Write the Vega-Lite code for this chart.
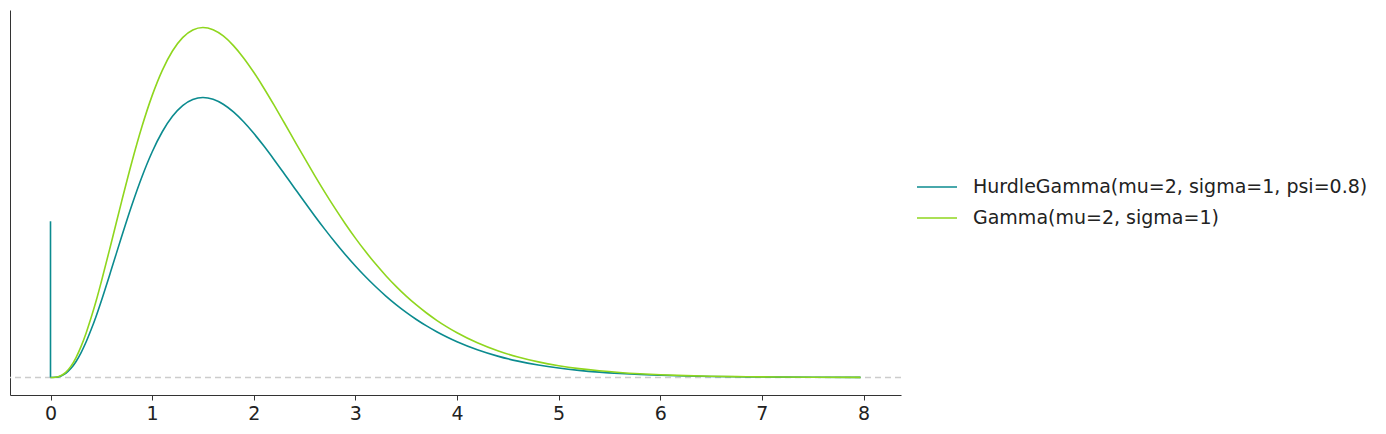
{
  "$schema": "https://vega.github.io/schema/vega-lite/v6.json",
  "width": 891,
  "height": 385,
  "autosize": {"type": "none"},
  "padding": {"left": 10, "top": 10, "right": 485, "bottom": 39},
  "background": "white",
  "config": {
    "font": "DejaVu Sans",
    "view": {"stroke": null}
  },
  "datasets": {
    "curves": [
      {"x": 0, "y": 0, "dist": "HurdleGamma(mu=2, sigma=1, psi=0.8)"},
      {"x": 0.05, "y": 0.00024128, "dist": "HurdleGamma(mu=2, sigma=1, psi=0.8)"},
      {"x": 0.1, "y": 0.0017466, "dist": "HurdleGamma(mu=2, sigma=1, psi=0.8)"},
      {"x": 0.15, "y": 0.0053339, "dist": "HurdleGamma(mu=2, sigma=1, psi=0.8)"},
      {"x": 0.2, "y": 0.0114402, "dist": "HurdleGamma(mu=2, sigma=1, psi=0.8)"},
      {"x": 0.25, "y": 0.020218, "dist": "HurdleGamma(mu=2, sigma=1, psi=0.8)"},
      {"x": 0.3, "y": 0.0316115, "dist": "HurdleGamma(mu=2, sigma=1, psi=0.8)"},
      {"x": 0.35, "y": 0.045421, "dist": "HurdleGamma(mu=2, sigma=1, psi=0.8)"},
      {"x": 0.4, "y": 0.0613485, "dist": "HurdleGamma(mu=2, sigma=1, psi=0.8)"},
      {"x": 0.45, "y": 0.078861, "dist": "HurdleGamma(mu=2, sigma=1, psi=0.8)"},
      {"x": 0.5, "y": 0.098101, "dist": "HurdleGamma(mu=2, sigma=1, psi=0.8)"},
      {"x": 0.6, "y": 0.13879, "dist": "HurdleGamma(mu=2, sigma=1, psi=0.8)"},
      {"x": 0.7, "y": 0.180443, "dist": "HurdleGamma(mu=2, sigma=1, psi=0.8)"},
      {"x": 0.8, "y": 0.220525, "dist": "HurdleGamma(mu=2, sigma=1, psi=0.8)"},
      {"x": 0.9, "y": 0.257074, "dist": "HurdleGamma(mu=2, sigma=1, psi=0.8)"},
      {"x": 1.0, "y": 0.288715, "dist": "HurdleGamma(mu=2, sigma=1, psi=0.8)"},
      {"x": 1.1, "y": 0.314622, "dist": "HurdleGamma(mu=2, sigma=1, psi=0.8)"},
      {"x": 1.2, "y": 0.334422, "dist": "HurdleGamma(mu=2, sigma=1, psi=0.8)"},
      {"x": 1.3, "y": 0.348117, "dist": "HurdleGamma(mu=2, sigma=1, psi=0.8)"},
      {"x": 1.4, "y": 0.355974, "dist": "HurdleGamma(mu=2, sigma=1, psi=0.8)"},
      {"x": 1.5, "y": 0.358467, "dist": "HurdleGamma(mu=2, sigma=1, psi=0.8)"},
      {"x": 1.6, "y": 0.356183, "dist": "HurdleGamma(mu=2, sigma=1, psi=0.8)"},
      {"x": 1.7, "y": 0.349786, "dist": "HurdleGamma(mu=2, sigma=1, psi=0.8)"},
      {"x": 1.8, "y": 0.339951, "dist": "HurdleGamma(mu=2, sigma=1, psi=0.8)"},
      {"x": 1.9, "y": 0.327345, "dist": "HurdleGamma(mu=2, sigma=1, psi=0.8)"},
      {"x": 2.0, "y": 0.312587, "dist": "HurdleGamma(mu=2, sigma=1, psi=0.8)"},
      {"x": 2.1, "y": 0.296269, "dist": "HurdleGamma(mu=2, sigma=1, psi=0.8)"},
      {"x": 2.2, "y": 0.278886, "dist": "HurdleGamma(mu=2, sigma=1, psi=0.8)"},
      {"x": 2.3, "y": 0.260901, "dist": "HurdleGamma(mu=2, sigma=1, psi=0.8)"},
      {"x": 2.4, "y": 0.242703, "dist": "HurdleGamma(mu=2, sigma=1, psi=0.8)"},
      {"x": 2.5, "y": 0.224598, "dist": "HurdleGamma(mu=2, sigma=1, psi=0.8)"},
      {"x": 2.6, "y": 0.206848, "dist": "HurdleGamma(mu=2, sigma=1, psi=0.8)"},
      {"x": 2.7, "y": 0.189654, "dist": "HurdleGamma(mu=2, sigma=1, psi=0.8)"},
      {"x": 2.8, "y": 0.173175, "dist": "HurdleGamma(mu=2, sigma=1, psi=0.8)"},
      {"x": 2.9, "y": 0.157526, "dist": "HurdleGamma(mu=2, sigma=1, psi=0.8)"},
      {"x": 3.0, "y": 0.142778, "dist": "HurdleGamma(mu=2, sigma=1, psi=0.8)"},
      {"x": 3.1, "y": 0.128977, "dist": "HurdleGamma(mu=2, sigma=1, psi=0.8)"},
      {"x": 3.2, "y": 0.116154, "dist": "HurdleGamma(mu=2, sigma=1, psi=0.8)"},
      {"x": 3.3, "y": 0.104297, "dist": "HurdleGamma(mu=2, sigma=1, psi=0.8)"},
      {"x": 3.4, "y": 0.093391, "dist": "HurdleGamma(mu=2, sigma=1, psi=0.8)"},
      {"x": 3.5, "y": 0.083407, "dist": "HurdleGamma(mu=2, sigma=1, psi=0.8)"},
      {"x": 3.6, "y": 0.07431, "dist": "HurdleGamma(mu=2, sigma=1, psi=0.8)"},
      {"x": 3.7, "y": 0.066052, "dist": "HurdleGamma(mu=2, sigma=1, psi=0.8)"},
      {"x": 3.8, "y": 0.058583, "dist": "HurdleGamma(mu=2, sigma=1, psi=0.8)"},
      {"x": 3.9, "y": 0.05185, "dist": "HurdleGamma(mu=2, sigma=1, psi=0.8)"},
      {"x": 4.0, "y": 0.045802, "dist": "HurdleGamma(mu=2, sigma=1, psi=0.8)"},
      {"x": 4.2, "y": 0.035542, "dist": "HurdleGamma(mu=2, sigma=1, psi=0.8)"},
      {"x": 4.4, "y": 0.027392, "dist": "HurdleGamma(mu=2, sigma=1, psi=0.8)"},
      {"x": 4.6, "y": 0.020981, "dist": "HurdleGamma(mu=2, sigma=1, psi=0.8)"},
      {"x": 4.8, "y": 0.015979, "dist": "HurdleGamma(mu=2, sigma=1, psi=0.8)"},
      {"x": 5.0, "y": 0.012106, "dist": "HurdleGamma(mu=2, sigma=1, psi=0.8)"},
      {"x": 5.2, "y": 0.009128, "dist": "HurdleGamma(mu=2, sigma=1, psi=0.8)"},
      {"x": 5.4, "y": 0.0068522, "dist": "HurdleGamma(mu=2, sigma=1, psi=0.8)"},
      {"x": 5.6, "y": 0.0051226, "dist": "HurdleGamma(mu=2, sigma=1, psi=0.8)"},
      {"x": 5.8, "y": 0.0038153, "dist": "HurdleGamma(mu=2, sigma=1, psi=0.8)"},
      {"x": 6.0, "y": 0.0028312, "dist": "HurdleGamma(mu=2, sigma=1, psi=0.8)"},
      {"x": 6.25, "y": 0.001941, "dist": "HurdleGamma(mu=2, sigma=1, psi=0.8)"},
      {"x": 6.5, "y": 0.0013242, "dist": "HurdleGamma(mu=2, sigma=1, psi=0.8)"},
      {"x": 6.75, "y": 0.00089952, "dist": "HurdleGamma(mu=2, sigma=1, psi=0.8)"},
      {"x": 7.0, "y": 0.00060846, "dist": "HurdleGamma(mu=2, sigma=1, psi=0.8)"},
      {"x": 7.5, "y": 0.00027531, "dist": "HurdleGamma(mu=2, sigma=1, psi=0.8)"},
      {"x": 7.97, "y": 0.00012907, "dist": "HurdleGamma(mu=2, sigma=1, psi=0.8)"},
      {"x": 0, "y": 0, "dist": "Gamma(mu=2, sigma=1)"},
      {"x": 0.05, "y": 0.0003016, "dist": "Gamma(mu=2, sigma=1)"},
      {"x": 0.1, "y": 0.0021833, "dist": "Gamma(mu=2, sigma=1)"},
      {"x": 0.15, "y": 0.0066674, "dist": "Gamma(mu=2, sigma=1)"},
      {"x": 0.2, "y": 0.0143002, "dist": "Gamma(mu=2, sigma=1)"},
      {"x": 0.25, "y": 0.025272, "dist": "Gamma(mu=2, sigma=1)"},
      {"x": 0.3, "y": 0.0395144, "dist": "Gamma(mu=2, sigma=1)"},
      {"x": 0.35, "y": 0.056776, "dist": "Gamma(mu=2, sigma=1)"},
      {"x": 0.4, "y": 0.0766856, "dist": "Gamma(mu=2, sigma=1)"},
      {"x": 0.45, "y": 0.098576, "dist": "Gamma(mu=2, sigma=1)"},
      {"x": 0.5, "y": 0.122626, "dist": "Gamma(mu=2, sigma=1)"},
      {"x": 0.6, "y": 0.173488, "dist": "Gamma(mu=2, sigma=1)"},
      {"x": 0.7, "y": 0.225554, "dist": "Gamma(mu=2, sigma=1)"},
      {"x": 0.8, "y": 0.275656, "dist": "Gamma(mu=2, sigma=1)"},
      {"x": 0.9, "y": 0.321342, "dist": "Gamma(mu=2, sigma=1)"},
      {"x": 1.0, "y": 0.360894, "dist": "Gamma(mu=2, sigma=1)"},
      {"x": 1.1, "y": 0.393277, "dist": "Gamma(mu=2, sigma=1)"},
      {"x": 1.2, "y": 0.418027, "dist": "Gamma(mu=2, sigma=1)"},
      {"x": 1.3, "y": 0.435146, "dist": "Gamma(mu=2, sigma=1)"},
      {"x": 1.4, "y": 0.444968, "dist": "Gamma(mu=2, sigma=1)"},
      {"x": 1.5, "y": 0.448084, "dist": "Gamma(mu=2, sigma=1)"},
      {"x": 1.6, "y": 0.445229, "dist": "Gamma(mu=2, sigma=1)"},
      {"x": 1.7, "y": 0.437232, "dist": "Gamma(mu=2, sigma=1)"},
      {"x": 1.8, "y": 0.424939, "dist": "Gamma(mu=2, sigma=1)"},
      {"x": 1.9, "y": 0.409181, "dist": "Gamma(mu=2, sigma=1)"},
      {"x": 2.0, "y": 0.390734, "dist": "Gamma(mu=2, sigma=1)"},
      {"x": 2.1, "y": 0.370336, "dist": "Gamma(mu=2, sigma=1)"},
      {"x": 2.2, "y": 0.348608, "dist": "Gamma(mu=2, sigma=1)"},
      {"x": 2.3, "y": 0.326126, "dist": "Gamma(mu=2, sigma=1)"},
      {"x": 2.4, "y": 0.303379, "dist": "Gamma(mu=2, sigma=1)"},
      {"x": 2.5, "y": 0.280747, "dist": "Gamma(mu=2, sigma=1)"},
      {"x": 2.6, "y": 0.25856, "dist": "Gamma(mu=2, sigma=1)"},
      {"x": 2.7, "y": 0.237067, "dist": "Gamma(mu=2, sigma=1)"},
      {"x": 2.8, "y": 0.216469, "dist": "Gamma(mu=2, sigma=1)"},
      {"x": 2.9, "y": 0.196907, "dist": "Gamma(mu=2, sigma=1)"},
      {"x": 3.0, "y": 0.178472, "dist": "Gamma(mu=2, sigma=1)"},
      {"x": 3.1, "y": 0.161221, "dist": "Gamma(mu=2, sigma=1)"},
      {"x": 3.2, "y": 0.145192, "dist": "Gamma(mu=2, sigma=1)"},
      {"x": 3.3, "y": 0.130371, "dist": "Gamma(mu=2, sigma=1)"},
      {"x": 3.4, "y": 0.116739, "dist": "Gamma(mu=2, sigma=1)"},
      {"x": 3.5, "y": 0.104259, "dist": "Gamma(mu=2, sigma=1)"},
      {"x": 3.6, "y": 0.092888, "dist": "Gamma(mu=2, sigma=1)"},
      {"x": 3.7, "y": 0.082565, "dist": "Gamma(mu=2, sigma=1)"},
      {"x": 3.8, "y": 0.073229, "dist": "Gamma(mu=2, sigma=1)"},
      {"x": 3.9, "y": 0.064813, "dist": "Gamma(mu=2, sigma=1)"},
      {"x": 4.0, "y": 0.057253, "dist": "Gamma(mu=2, sigma=1)"},
      {"x": 4.2, "y": 0.044427, "dist": "Gamma(mu=2, sigma=1)"},
      {"x": 4.4, "y": 0.03424, "dist": "Gamma(mu=2, sigma=1)"},
      {"x": 4.6, "y": 0.026226, "dist": "Gamma(mu=2, sigma=1)"},
      {"x": 4.8, "y": 0.019974, "dist": "Gamma(mu=2, sigma=1)"},
      {"x": 5.0, "y": 0.015133, "dist": "Gamma(mu=2, sigma=1)"},
      {"x": 5.2, "y": 0.01141, "dist": "Gamma(mu=2, sigma=1)"},
      {"x": 5.4, "y": 0.0085652, "dist": "Gamma(mu=2, sigma=1)"},
      {"x": 5.6, "y": 0.0064032, "dist": "Gamma(mu=2, sigma=1)"},
      {"x": 5.8, "y": 0.0047691, "dist": "Gamma(mu=2, sigma=1)"},
      {"x": 6.0, "y": 0.003539, "dist": "Gamma(mu=2, sigma=1)"},
      {"x": 6.25, "y": 0.0024262, "dist": "Gamma(mu=2, sigma=1)"},
      {"x": 6.5, "y": 0.0016553, "dist": "Gamma(mu=2, sigma=1)"},
      {"x": 6.75, "y": 0.0011244, "dist": "Gamma(mu=2, sigma=1)"},
      {"x": 7.0, "y": 0.00076057, "dist": "Gamma(mu=2, sigma=1)"},
      {"x": 7.5, "y": 0.00034414, "dist": "Gamma(mu=2, sigma=1)"},
      {"x": 7.97, "y": 0.00016134, "dist": "Gamma(mu=2, sigma=1)"}
    ],
    "spike": [{"x": 0, "y": 0, "y2": 0.2}],
    "baseline": [{"y": 0}]
  },
  "layer": [
    {
      "data": {"name": "baseline"},
      "mark": {"type": "rule", "color": "#cccccc", "strokeWidth": 1.5, "strokeDash": [6, 4]},
      "encoding": {
        "y": {"field": "y", "type": "quantitative", "scale": {"domain": [-0.0224, 0.4705], "nice": false, "zero": false}}
      }
    },
    {
      "data": {"name": "spike"},
      "mark": {"type": "rule", "color": "#0b8b8f", "strokeWidth": 1.6},
      "encoding": {
        "x": {"field": "x", "type": "quantitative"},
        "y": {"field": "y", "type": "quantitative"},
        "y2": {"field": "y2"}
      }
    },
    {
      "data": {"name": "curves"},
      "mark": {"type": "line", "interpolate": "monotone", "strokeWidth": 1.6},
      "encoding": {
        "x": {
          "field": "x",
          "type": "quantitative",
          "scale": {"domain": [-0.3985, 8.3685], "nice": false, "zero": false},
          "axis": {
            "title": null,
            "values": [0, 1, 2, 3, 4, 5, 6, 7, 8],
            "format": "d",
            "grid": false,
            "domainColor": "#333333",
            "tickColor": "#333333",
            "tickSize": 5,
            "labelFontSize": 19,
            "labelColor": "#222222",
            "labelPadding": 4
          }
        },
        "y": {
          "field": "y",
          "type": "quantitative",
          "axis": {
            "title": null,
            "labels": false,
            "ticks": false,
            "grid": false,
            "domainColor": "#333333"
          }
        },
        "color": {
          "field": "dist",
          "type": "nominal",
          "sort": ["HurdleGamma(mu=2, sigma=1, psi=0.8)", "Gamma(mu=2, sigma=1)"],
          "scale": {
            "domain": ["HurdleGamma(mu=2, sigma=1, psi=0.8)", "Gamma(mu=2, sigma=1)"],
            "range": ["#0b8b8f", "#8fd61e"]
          },
          "legend": {
            "title": null,
            "orient": "none",
            "legendX": 906,
            "legendY": 156,
            "symbolType": "stroke",
            "symbolSize": 1600,
            "symbolStrokeWidth": 1.6,
            "labelFontSize": 19,
            "labelLimit": 0,
            "labelColor": "#222222",
            "labelOffset": 15,
            "rowPadding": -11
          }
        }
      }
    }
  ]
}
